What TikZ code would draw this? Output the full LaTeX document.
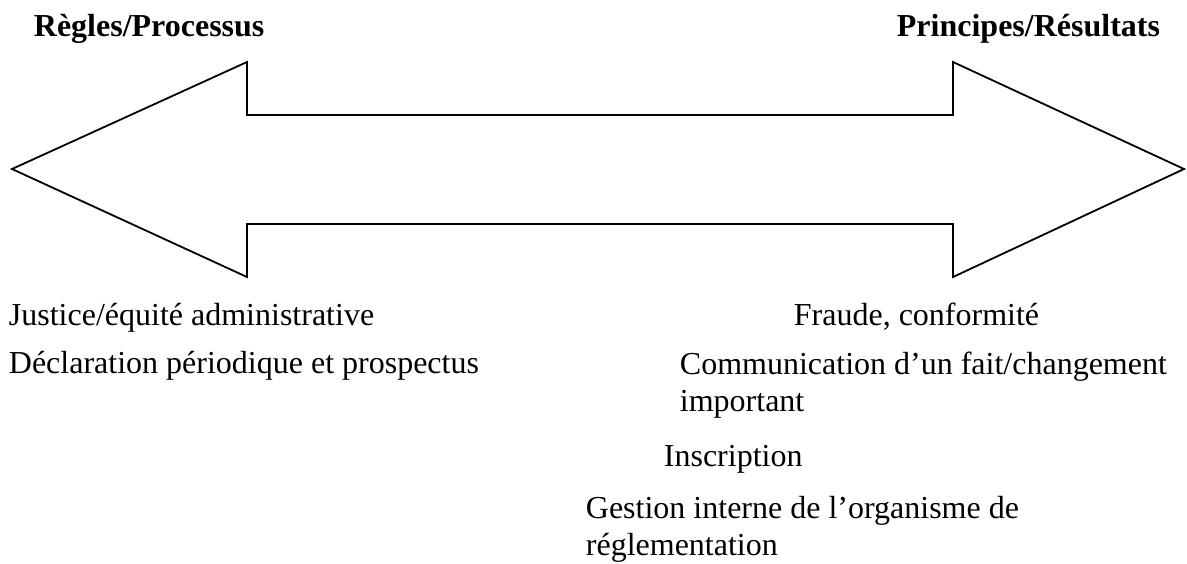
\documentclass[tikz,border=0pt]{standalone}
\usepackage{fontspec}
\setmainfont{Liberation Serif}
\usetikzlibrary{positioning}

\begin{document}
\begin{tikzpicture}[x=0.5pt,y=-0.5pt,line width=0.9pt,
  lbl/.style={inner sep=0pt,anchor=base west,align=left,
    font=\fontsize{16}{18.3}\selectfont},
  hd/.style={lbl,font=\fontsize{16}{18.3}\selectfont\bfseries}]
  \useasboundingbox (0,0) rectangle (1187,563);
  % double arrow
  \draw[line join=miter] (12,169) -- (247,62) -- (247,115) -- (953,115) -- (953,62)
    -- (1184,169) -- (953,277) -- (953,224) -- (247,224) -- (247,277) -- cycle;
  \node[hd] (regles) at (33,36) {Règles/Processus};
  \node[hd] (principes) at (896,36) {Principes/Résultats};
  \node[lbl] (justice) at (8,325) {Justice/équité administrative};
  \node[lbl] (declar) at (8,373) {Déclaration périodique et prospectus};
  \node[lbl] (fraude) at (793,325) {Fraude, conformité};
  % base of a two-line node is the baseline of its last line
  \node[lbl] (comm) at (679,411) {Communication d’un fait/changement\\important};
  \node[lbl] (inscr) at (663,466) {Inscription};
  \node[lbl] (gestion) at (585,555) {Gestion interne de l’organisme de\\réglementation};
\end{tikzpicture}
\end{document}
